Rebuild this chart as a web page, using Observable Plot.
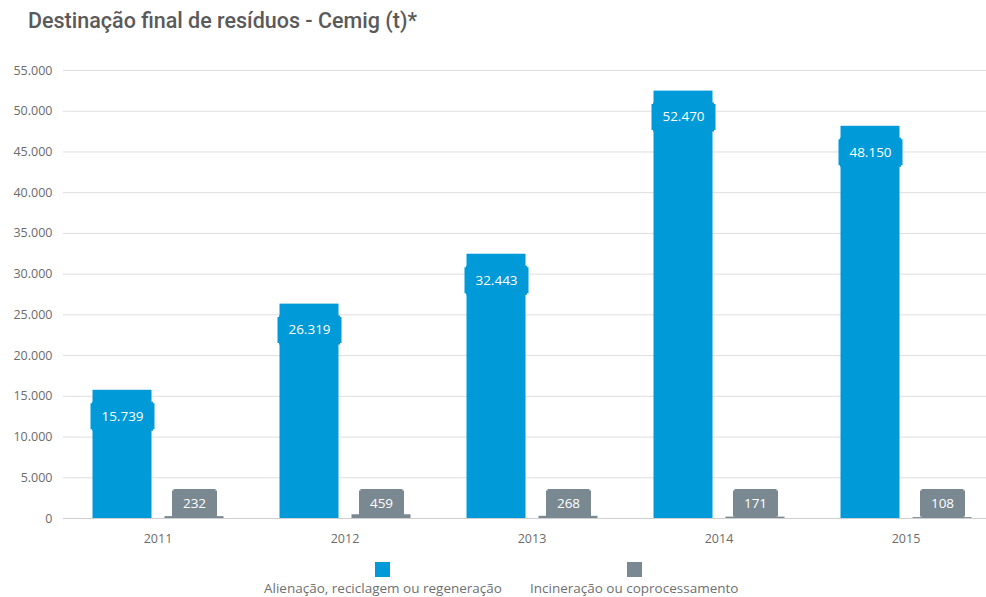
<!DOCTYPE html>
<html>
<head>
<meta charset="utf-8">
<script src="https://cdn.jsdelivr.net/npm/d3@7"></script>
<script src="https://cdn.jsdelivr.net/npm/@observablehq/plot@0.6"></script>
<style>
  html, body { margin: 0; padding: 0; background: #fff; }
  #wrap { width: 986px; height: 597px; position: relative; overflow: hidden; }
  #title { height: 50px; box-sizing: border-box; padding: 8px 0 0 28px; font-family: Roboto, "Open Sans", sans-serif; font-weight: 500; font-size: 21.5px; color: #5a5a5a; }
  #legend { display: flex; gap: 28px; padding-left: 264px; padding-top: 7px; font-family: "Open Sans", sans-serif; font-size: 13.5px; line-height: 15px; color: #707070; }
  .item { display: flex; flex-direction: column; align-items: center; }
  .sw { width: 15px; height: 15px; margin-bottom: 4px; }
  svg { display: block; }
</style>
</head>
<body>
<div id="wrap">
  <div id="title">Destinação final de resíduos - Cemig (t)*</div>
  <div id="chart"></div>
  <div id="legend"></div>
</div>
<script>
const years = ["2011", "2012", "2013", "2014", "2015"];
const alienacao = [15739, 26319, 32443, 52470, 48150];
const incineracao = [232, 459, 268, 171, 108];
const seriesNames = ["Alienação, reciclagem ou regeneração", "Incineração ou coprocessamento"];
const seriesColors = ["#009ad9", "#7a8892"];
const yTicks = [0, 5000, 10000, 15000, 20000, 25000, 30000, 35000, 40000, 45000, 50000, 55000];

const locale = d3.formatLocale({decimal: ",", thousands: ".", grouping: [3], currency: ["", ""]});
const fmt = locale.format(",d");

const blue = years.map((year, i) => ({year, value: alienacao[i]}));
const gray = years.map((year, i) => ({year, value: incineracao[i]}));

function boxSymbol(w, h, c) {
  return {
    draw(ctx) {
      const x0 = -w / 2, x1 = w / 2, y0 = -h / 2, y1 = h / 2;
      ctx.moveTo(x0 + c, y0);
      ctx.lineTo(x1 - c, y0);
      ctx.lineTo(x1 - c, y0 + c);
      ctx.lineTo(x1, y0 + c);
      ctx.lineTo(x1, y1 - c);
      ctx.lineTo(x1 - c, y1 - c);
      ctx.lineTo(x1 - c, y1);
      ctx.lineTo(x0 + c, y1);
      ctx.lineTo(x0 + c, y1 - c);
      ctx.lineTo(x0, y1 - c);
      ctx.lineTo(x0, y0 + c);
      ctx.lineTo(x0 + c, y0 + c);
      ctx.closePath();
    }
  };
}

const chart = Plot.plot({
  width: 986,
  height: 505,
  marginLeft: 63,
  marginRight: 0,
  marginTop: 20,
  marginBottom: 37,
  style: {fontFamily: "'Open Sans', sans-serif", fontSize: "12.5px", color: "#6b6b6b", background: "#fff"},
  x: {domain: years, range: [63.5, 998.5], padding: 0, tickSize: 0, tickPadding: 16, label: null},
  y: {domain: [0, 55000], ticks: yTicks, tickFormat: fmt, tickSize: 0, tickPadding: 11, label: null},
  marks: [
    Plot.ruleY(yTicks, {stroke: "#dedede", strokeWidth: 1}),
    Plot.ruleY([0], {stroke: "#cfcfcf"}),
    Plot.barY(blue, {x: "year", y: "value", fill: seriesColors[0], insetLeft: 28.5, insetRight: 99.5}),
    Plot.barY(gray, {x: "year", y: "value", fill: seriesColors[1], insetLeft: 100.5, insetRight: 27.5}),
    Plot.dot(blue, {x: "year", y: "value", dx: -35.5, dy: 26, r: 10, fill: seriesColors[0], stroke: null, symbol: boxSymbol(64, 29, 1.5)}),
    Plot.text(blue, {x: "year", y: "value", dx: -35.5, dy: 26, text: d => fmt(d.value), fill: "#fff", fontSize: 13.5}),
    Plot.dot(gray, {x: "year", y: () => 0, dx: 36.5, dy: -15, r: 10, fill: seriesColors[1], stroke: null, symbol: boxSymbol(45, 29, 1.5)}),
    Plot.text(gray, {x: "year", y: () => 0, dx: 36.5, dy: -15, text: d => fmt(d.value), fill: "#fff", fontSize: 13.5})
  ]
});
document.getElementById("chart").appendChild(chart);

const legend = document.getElementById("legend");
seriesNames.forEach((name, i) => {
  const item = document.createElement("div");
  item.className = "item";
  const sw = document.createElement("div");
  sw.className = "sw";
  sw.style.background = seriesColors[i];
  const lab = document.createElement("div");
  lab.textContent = name;
  item.appendChild(sw);
  item.appendChild(lab);
  legend.appendChild(item);
});
</script>
</body>
</html>
